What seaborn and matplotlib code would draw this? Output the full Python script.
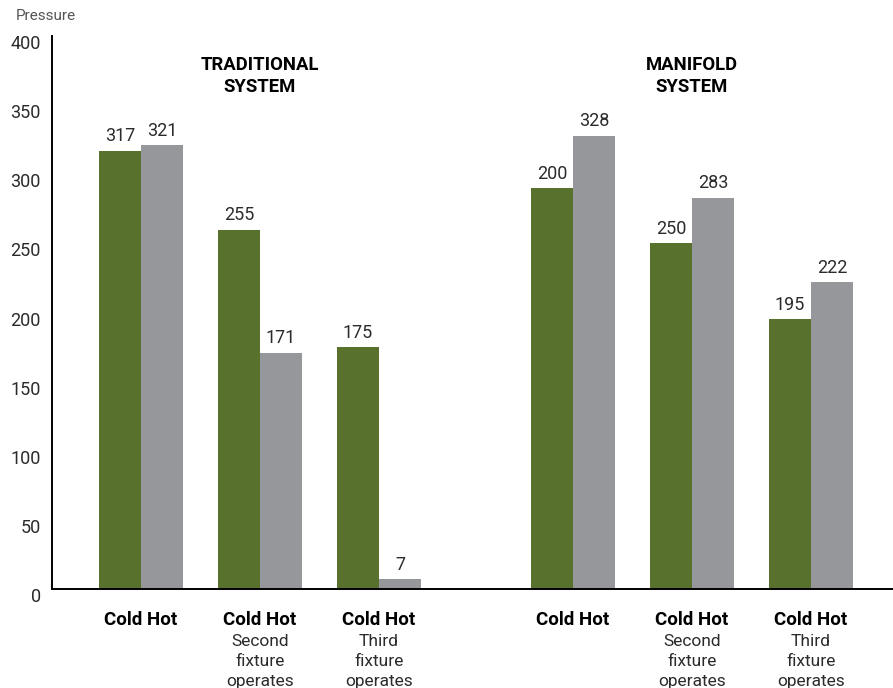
import pandas as pd
import matplotlib.pyplot as plt
import seaborn as sns
from matplotlib.transforms import ScaledTranslation

# data
groups = ["trad_1", "trad_2", "trad_3", "man_1", "man_2", "man_3"]
cold_values = [317, 260, 175, 290, 250, 195]
hot_values = [321, 171, 7, 328, 283, 222]
# printed labels (two of them do not match the bar height in the source)
cold_labels = ["317", "255", "175", "200", "250", "195"]
hot_labels = ["321", "171", "7", "328", "283", "222"]
sub_labels = ["", "Second\nfixture\noperates", "Third\nfixture\noperates",
              "", "Second\nfixture\noperates", "Third\nfixture\noperates"]
system_titles = ["TRADITIONAL\nSYSTEM", "MANIFOLD\nSYSTEM"]
y_ticks = [0, 50, 100, 150, 200, 250, 300, 350, 400]

GREEN = "#58712d"
GREY = "#96979b"
TEXT = "#2b2b2b"

sns.set_style("white")
plt.rcParams["font.family"] = ["Roboto", "DejaVu Sans"]

# x positions: three groups per system, a wider gap between systems
positions = [0, 1, 2, 3.63, 4.63, 5.63]

df = pd.DataFrame({
    "pos": positions * 2,
    "kind": ["Cold"] * 6 + ["Hot"] * 6,
    "value": cold_values + hot_values,
})

fig = plt.figure(figsize=(8.93, 6.88), dpi=100)
ax = fig.add_axes([52 / 893, 1 - 589 / 688, 1 - 52 / 893, (589 - 36) / 688])

sns.barplot(data=df, x="pos", y="value", hue="kind", native_scale=True,
            palette={"Cold": GREEN, "Hot": GREY}, saturation=1, width=0.706,
            errorbar=None, legend=False, linewidth=0, ax=ax)

for cont, labs in zip(ax.containers, [cold_labels, hot_labels]):
    ax.bar_label(cont, labels=labs, padding=4, fontsize=13, color=TEXT)

ax.set_xlim(-0.748, 6.32)
ax.set_ylim(0, 400)
ax.set_xlabel("")
ax.set_ylabel("")

sns.despine(ax=ax)
for side in ["left", "bottom"]:
    ax.spines[side].set_color("black")
    ax.spines[side].set_linewidth(1.4)

# x labels
ax.set_xticks(positions)
ax.set_xticklabels(["Cold Hot"] * 6, fontweight="bold", fontsize=13.5, color="black")
ax.tick_params(axis="x", length=0, pad=16)
for x, sub in zip(positions, sub_labels):
    if sub:
        ax.annotate(sub, xy=(x, 0), xycoords=("data", "axes fraction"),
                    xytext=(0, -32.5), textcoords="offset points",
                    ha="center", va="top", fontsize=12.5, color=TEXT,
                    linespacing=1.42, annotation_clip=False)

# y labels sit a little below their tick values in the source
ax.set_yticks(y_ticks)
ax.set_yticklabels([str(t) for t in y_ticks], fontsize=13, color=TEXT)
ax.tick_params(axis="y", length=0, pad=8)
for lab in ax.get_yticklabels():
    lab.set_transform(lab.get_transform() + ScaledTranslation(0, -0.06, fig.dpi_scale_trans))

# system titles
for x, title in zip([positions[1], positions[4]], system_titles):
    ax.text(x, 371, title, ha="center", va="center", fontsize=13.3,
            fontweight="bold", color="black", linespacing=1.28)

fig.text(16 / 893, 1 - 16 / 688, "Pressure", ha="left", va="center",
         fontsize=11, color="#555555")

fig.savefig("out.png", dpi=100)
